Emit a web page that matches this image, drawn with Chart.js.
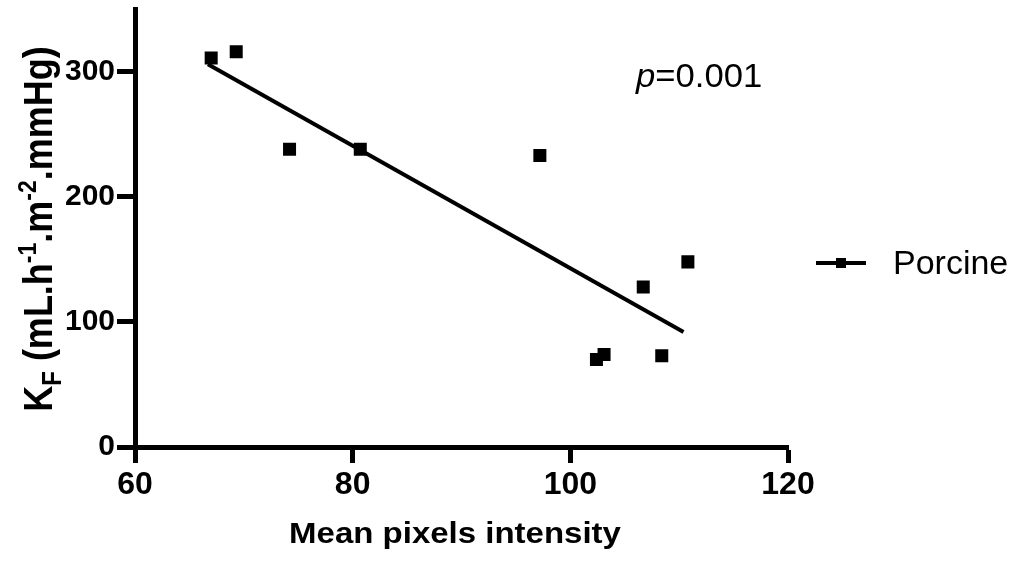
<!DOCTYPE html>
<html>
<head>
<meta charset="utf-8">
<script src="https://cdn.jsdelivr.net/npm/chart.js@4"></script>
<style>
  body { margin: 0; background: #fff; }
  #wrap { width: 1018px; height: 563px; }
</style>
</head>
<body>
<div id="wrap"><canvas id="myChart" width="1018" height="563"></canvas></div>
<script>
let intensity = [67.0, 69.3, 74.2, 80.7, 97.2, 102.4, 103.1, 106.7, 108.4, 110.8];
let kf = [311, 316, 238, 238, 233, 70, 74, 128, 73, 148];
let fitX = [66.7, 110.4];
let fitY = [306, 92];
let xTicks = [60, 80, 100, 120];
let yTicks = [0, 100, 200, 300];
let seriesName = 'Porcine';
let pValue = '=0.001';

let font = "'Liberation Sans', Arial, Helvetica, sans-serif";

function toPoints(xs, ys) {
  let points = [];
  for (let i = 0; i < xs.length; i++) {
    points.push({ x: xs[i], y: ys[i] });
  }
  return points;
}

function stretchText(ctx, text, x, y, size, weight, sx) {
  ctx.save();
  ctx.translate(x, y);
  ctx.scale(sx, 1);
  ctx.font = weight + ' ' + size + 'px ' + font;
  ctx.fillText(text, 0, 0);
  let w = ctx.measureText(text).width * sx;
  ctx.restore();
  return w;
}

// axis titles, p value and legend drawn by hand (sub/superscripts)
let extras = {
  id: 'extras',
  afterDraw(chart) {
    let ctx = chart.ctx;
    ctx.save();
    ctx.fillStyle = '#000';
    ctx.textBaseline = 'alphabetic';
    ctx.textAlign = 'left';

    // x title
    ctx.font = 'bold 30px ' + font;
    let tw = ctx.measureText('Mean pixels intensity').width * 1.1;
    stretchText(ctx, 'Mean pixels intensity', 455 - tw / 2, 543, 30, 'bold', 1.1);

    // y title
    let parts = [
      ['K', 36, 0], ['F', 24, 8], [' (mL.h', 36, 0], ['-1', 23, -14],
      ['.m', 36, 0], ['-2', 23, -14], ['.mmHg)', 36, 0]
    ];
    let total = 0;
    for (let i = 0; i < parts.length; i++) {
      ctx.font = 'bold ' + parts[i][1] + 'px ' + font;
      total += ctx.measureText(parts[i][0]).width;
    }
    ctx.translate(52, 229);
    ctx.rotate(-Math.PI / 2);
    ctx.scale(1, 1.12);
    let px = -total / 2;
    for (let i = 0; i < parts.length; i++) {
      ctx.font = 'bold ' + parts[i][1] + 'px ' + font;
      ctx.fillText(parts[i][0], px, parts[i][2]);
      px += ctx.measureText(parts[i][0]).width;
    }
    ctx.restore();

    ctx.save();
    ctx.fillStyle = '#000';
    // p value
    let pw = stretchText(ctx, 'p', 636, 87, 33, 'italic', 1.05);
    stretchText(ctx, pValue, 636 + pw, 87, 33, 'normal', 1.05);

    // legend
    ctx.strokeStyle = '#000';
    ctx.lineWidth = 4;
    ctx.beginPath();
    ctx.moveTo(816, 263);
    ctx.lineTo(866, 263);
    ctx.stroke();
    ctx.fillRect(836, 258, 10, 10);
    ctx.font = '34px ' + font;
    ctx.fillText(seriesName, 893, 274);
    ctx.restore();
  }
};

let axisStyle = {
  border: { display: true, color: '#000', width: 5 },
  grid: { drawOnChartArea: false, drawTicks: true, color: '#000', tickColor: '#000', tickWidth: 5 }
};

new Chart(document.getElementById('myChart'), {
  data: {
    datasets: [
      {
        type: 'line',
        label: 'fit',
        data: toPoints(fitX, fitY),
        borderColor: '#000',
        borderWidth: 4,
        pointRadius: 0,
        fill: false
      },
      {
        type: 'scatter',
        label: seriesName,
        data: toPoints(intensity, kf),
        pointStyle: 'rect',
        pointRadius: 9.2,
        pointHoverRadius: 9.2,
        backgroundColor: '#000',
        borderColor: '#000',
        borderWidth: 0
      }
    ]
  },
  options: {
    responsive: false,
    animation: false,
    events: [],
    layout: { padding: { top: 8, right: 230, bottom: 0, left: 0 } },
    plugins: { legend: { display: false }, tooltip: { enabled: false } },
    scales: {
      x: {
        type: 'linear',
        min: 60,
        max: 120,
        border: axisStyle.border,
        grid: Object.assign({ tickLength: 16 }, axisStyle.grid),
        ticks: { stepSize: 20, color: '#000', padding: 3, maxRotation: 0, font: { family: font, size: 32, weight: 'bold' } },
        afterBuildTicks: function (scale) { scale.ticks = xTicks.map(v => ({ value: v })); },
        afterFit: function (scale) { scale.height = 116; }
      },
      y: {
        type: 'linear',
        min: 0,
        max: 350,
        border: axisStyle.border,
        grid: Object.assign({ tickLength: 18 }, axisStyle.grid),
        ticks: { stepSize: 100, color: '#000', padding: 2, font: { family: font, size: 30, weight: 'bold' } },
        afterBuildTicks: function (scale) { scale.ticks = yTicks.map(v => ({ value: v })); },
        afterFit: function (scale) {
          scale.width = 135;
          scale.paddingTop = 0;
          scale.paddingBottom = 0;
        }
      }
    }
  },
  plugins: [extras]
});
</script>
</body>
</html>
